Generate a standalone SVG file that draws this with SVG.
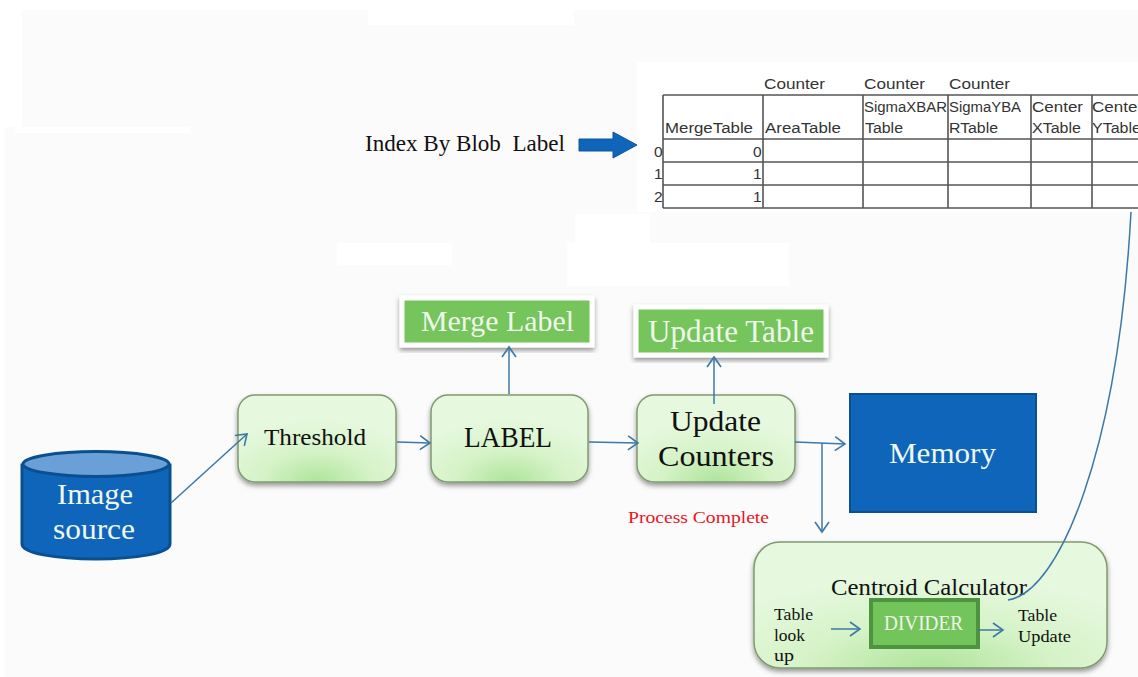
<svg xmlns="http://www.w3.org/2000/svg" width="1138" height="677" viewBox="0 0 1138 677">
<defs>
<radialGradient id="g" cx="0.5" cy="1" r="0.72"><stop offset="0" stop-color="#aee49a"/><stop offset="0.5" stop-color="#d6f3c8"/><stop offset="1" stop-color="#e6f8de"/></radialGradient>
<filter id="s" x="-10%" y="-10%" width="120%" height="125%"><feDropShadow dx="0" dy="3" stdDeviation="2.5" flood-color="#000" flood-opacity="0.4"/></filter>
<marker id="a" markerUnits="userSpaceOnUse" markerWidth="16" markerHeight="18" refX="14" refY="9" orient="auto"><path d="M4 2L14 9L4 16" fill="none" stroke="#3c78a8" stroke-width="1.6"/></marker>
</defs>
<style>
.bg{fill:#fff}
.box{fill:url(#g);stroke:#7f9a6f;stroke-width:1.5;filter:url(#s)}
.green{fill:#74c45c;stroke:#fff;stroke-width:5;filter:url(#s)}
.c{fill:none;stroke:#3c78a8;stroke-width:1.5}
.ar{marker-end:url(#a)}
text{font-family:"Liberation Serif","Times New Roman",serif}
.k{fill:#111}
.w{fill:#eef8ea}
.t text{font-family:"Liberation Sans",Arial,sans-serif;font-size:15.500px;fill:#333}
.g{stroke:#555;stroke-width:1.6;fill:none}
</style>
<rect width="1138" height="677" fill="#fbfbfb"/>
<g id="patches">
<rect class="bg" x="0" y="0" width="1138" height="10"/>
<rect class="bg" x="0" y="0" width="22" height="127"/>
<rect class="bg" x="0" y="127" width="5" height="550"/>
<rect class="bg" x="368" y="8" width="206" height="17"/>
<rect class="bg" x="15" y="127" width="175" height="6"/>
<rect class="bg" x="337" y="243" width="115" height="22"/>
<rect class="bg" x="567" y="243" width="222" height="43"/>
<rect class="bg" x="575" y="214" width="75" height="30"/>
<rect class="bg" x="637" y="62" width="501" height="150"/>
</g>
<g id="arrow-index"><path d="M579 139H613V132L637 145L613 158V151H579Z" fill="#0f65ba" stroke="#0d57a0" stroke-width="1"/></g>
<text x="365" y="151" font-size="24" class="k" xml:space="preserve" textLength="200" lengthAdjust="spacingAndGlyphs">Index By Blob  Label</text>
<g id="image-source">
<path d="M22 465V544C22 553 55 559 96 559C137 559 170 553 170 544V465Z" fill="#0f65ba" stroke="#0a4f8f" stroke-width="3"/>
<ellipse cx="96" cy="464" rx="73" ry="12.500" fill="#6a9fd8" stroke="#0a4f8f" stroke-width="3"/>
<text class="w" x="57" y="504" font-size="30" textLength="76" lengthAdjust="spacingAndGlyphs">Image</text>
<text class="w" x="53" y="539" font-size="30" textLength="82" lengthAdjust="spacingAndGlyphs">source</text>
</g>
<g id="threshold"><rect class="box" x="238" y="395" width="158" height="87" rx="17"/><text class="k" x="264" y="445" font-size="22.500" textLength="102" lengthAdjust="spacingAndGlyphs">Threshold</text></g>
<g id="label"><rect class="box" x="431" y="395" width="157" height="87" rx="17"/><text class="k" x="464" y="447" font-size="30" textLength="88" lengthAdjust="spacingAndGlyphs">LABEL</text></g>
<g id="update-counters"><rect class="box" x="637" y="395" width="158" height="87" rx="17"/><text class="k" x="670" y="431" font-size="30" textLength="91" lengthAdjust="spacingAndGlyphs">Update</text><text class="k" x="658" y="466" font-size="30" textLength="116" lengthAdjust="spacingAndGlyphs">Counters</text></g>
<g id="merge-label"><rect class="green" x="402" y="298" width="190" height="47"/><text class="w" x="421" y="331" font-size="30" textLength="153" lengthAdjust="spacingAndGlyphs">Merge Label</text></g>
<g id="update-table"><rect class="green" x="636" y="307" width="190" height="48"/><text class="w" x="648" y="342" font-size="31" textLength="166" lengthAdjust="spacingAndGlyphs">Update Table</text></g>
<g id="memory"><rect x="850" y="394" width="186" height="118" fill="#0f65ba" stroke="#0a4f8f" stroke-width="2"/><text class="w" x="889" y="463" font-size="30" textLength="107" lengthAdjust="spacingAndGlyphs">Memory</text></g>
<text x="628" y="523" font-size="17" fill="#e8141c" textLength="141" lengthAdjust="spacingAndGlyphs">Process Complete</text>
<g id="centroid-calculator">
<rect class="box" x="754" y="542" width="353" height="126" rx="26"/>
<text class="k" x="831" y="595" font-size="24" textLength="196" lengthAdjust="spacingAndGlyphs">Centroid Calculator</text>
<text class="k" x="774" y="620" font-size="17" textLength="39" lengthAdjust="spacingAndGlyphs">Table</text><text class="k" x="774" y="641" font-size="17" textLength="31" lengthAdjust="spacingAndGlyphs">look</text><text class="k" x="774" y="661" font-size="17" textLength="20" lengthAdjust="spacingAndGlyphs">up</text>
<text class="k" x="1018" y="621" font-size="17" textLength="39" lengthAdjust="spacingAndGlyphs">Table</text><text class="k" x="1018" y="642" font-size="17" textLength="53" lengthAdjust="spacingAndGlyphs">Update</text>
</g>
<g id="divider"><rect x="871" y="600" width="107" height="47" fill="#74c45c" stroke="#4e9440" stroke-width="4"/><text class="w" x="884" y="630" font-size="20" textLength="79" lengthAdjust="spacingAndGlyphs">DIVIDER</text></g>
<g id="table">
<path class="g" d="M663 95H1138M663 139H1138M663 162H1138M663 185H1138M663 208H1138M663 95V208M763 95V208M863 95V208M948 95V208M1031 95V208M1092 95V208"/>
<g class="t">
<text x="764" y="89" textLength="61" lengthAdjust="spacingAndGlyphs">Counter</text><text x="864" y="89" textLength="61" lengthAdjust="spacingAndGlyphs">Counter</text><text x="949" y="89" textLength="61" lengthAdjust="spacingAndGlyphs">Counter</text>
<text x="665" y="133" textLength="88" lengthAdjust="spacingAndGlyphs">MergeTable</text><text x="765" y="133" textLength="76" lengthAdjust="spacingAndGlyphs">AreaTable</text>
<text x="864" y="112" textLength="83" lengthAdjust="spacingAndGlyphs">SigmaXBAR</text><text x="865" y="133" textLength="38" lengthAdjust="spacingAndGlyphs">Table</text>
<text x="949" y="112" textLength="72" lengthAdjust="spacingAndGlyphs">SigmaYBA</text><text x="949" y="133" textLength="49" lengthAdjust="spacingAndGlyphs">RTable</text>
<text x="1032" y="112" textLength="51" lengthAdjust="spacingAndGlyphs">Center</text><text x="1032" y="133" textLength="49" lengthAdjust="spacingAndGlyphs">XTable</text>
<text x="1092" y="112" textLength="51" lengthAdjust="spacingAndGlyphs">Center</text><text x="1092" y="133" textLength="49" lengthAdjust="spacingAndGlyphs">YTable</text>
<text x="654" y="157">0</text><text x="654" y="179">1</text><text x="654" y="202">2</text>
<text x="753" y="157">0</text><text x="753" y="179">1</text><text x="753" y="202">1</text>
</g>
</g>
<g id="connectors">
<path class="c ar" d="M171 503L247 434"/>
<path class="c ar" d="M397 442L430 443"/>
<path class="c ar" d="M589 442L638 443"/>
<path class="c ar" d="M509 394V347"/>
<path class="c ar" d="M714 404V357"/>
<path class="c ar" d="M795 442L845 444"/>
<path class="c ar" d="M822 443V532"/>
<path class="c" d="M1008 600C1060 592 1118 450 1131 212"/>
<path class="c ar" d="M831 629H860"/>
<path class="c ar" d="M978 630H1003"/>
</g>
</svg>
